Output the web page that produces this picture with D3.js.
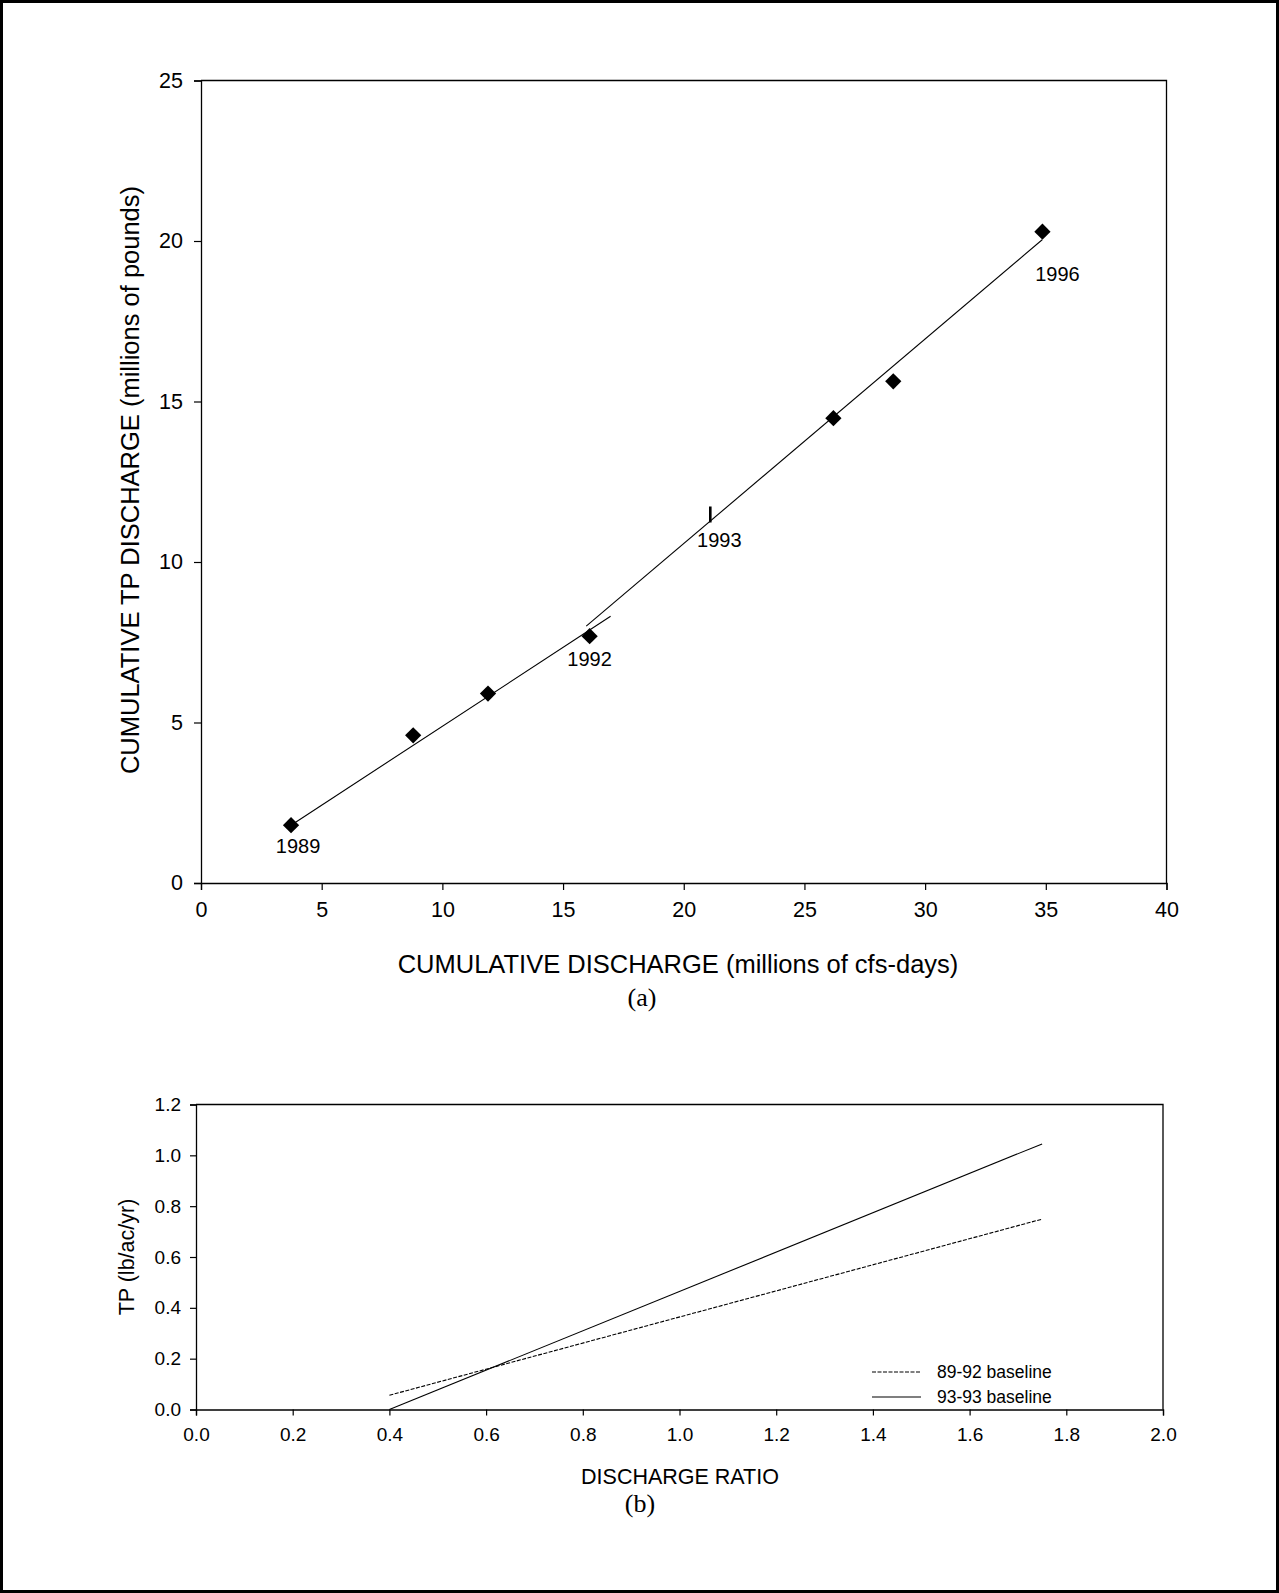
<!DOCTYPE html>
<html>
<head>
<meta charset="utf-8">
<script src="https://cdn.jsdelivr.net/npm/d3@7"></script>
<style>
  html, body { margin: 0; padding: 0; background: #fff; }
  svg { display: block; }
  text { fill: #000; }
</style>
</head>
<body>
<svg id="page" width="1279" height="1593"></svg>
<script>
// ---- Panel (a): cumulative TP load vs cumulative discharge ----
const years        = [1989, 1990, 1991, 1992, 1993, 1994, 1995, 1996];
const cumDischarge = [3.73, 8.79, 11.89, 16.1, 21.1, 26.2, 28.68, 34.86];
const cumTP        = [1.80, 4.60, 5.90, 7.69, 11.48, 14.48, 15.63, 20.29];
const labelledYears = [1989, 1992, 1993, 1996];
const diamondYears  = [1989, 1990, 1991, 1992, 1994, 1995, 1996];

// fitted lines (end points) for the two periods
const fit8992X = [3.73, 16.97];
const fit8992Y = [1.80, 8.31];
const fit9396X = [15.96, 34.85];
const fit9396Y = [8.00, 20.04];

const xTicksA = [0, 5, 10, 15, 20, 25, 30, 35, 40];
const yTicksA = [0, 5, 10, 15, 20, 25];

// ---- Panel (b): TP yield vs discharge ratio ----
const ratioX      = [0.4, 1.75];
const tp8992      = [0.056, 0.749];
const tp9393      = [0.0, 1.045];
const seriesNames = ["89-92 baseline", "93-93 baseline"];
const xTicksB = [0.0, 0.2, 0.4, 0.6, 0.8, 1.0, 1.2, 1.4, 1.6, 1.8, 2.0];
const yTicksB = [0.0, 0.2, 0.4, 0.6, 0.8, 1.0, 1.2];

const SANS = "'Liberation Sans', Arial, sans-serif";
const SERIF = "'Liberation Serif', 'Times New Roman', serif";

const svg = d3.select("#page");

// page frame
svg.append("rect")
  .attr("x", 1.5).attr("y", 1.5)
  .attr("width", 1276).attr("height", 1590)
  .attr("fill", "none").attr("stroke", "#000").attr("stroke-width", 3);

// ================= Panel (a) =================
const A = { left: 201, right: 1166.5, top: 80.5, bottom: 883 };
const xA = d3.scaleLinear().domain([0, 40]).range([A.left, A.right]);
const yA = d3.scaleLinear().domain([0, 25]).range([A.bottom, A.top]);

const gA = svg.append("g");

// frame: top and right edges
gA.append("path")
  .attr("d", `M${A.left},${A.top}H${A.right}V${A.bottom}`)
  .attr("fill", "none").attr("stroke", "#000").attr("stroke-width", 1.3);

const axXA = gA.append("g")
  .attr("transform", `translate(0,${A.bottom})`)
  .call(d3.axisBottom(xA).tickValues(xTicksA).tickSize(7).tickPadding(12).tickFormat(d3.format("d")));
const axYA = gA.append("g")
  .attr("transform", `translate(${A.left},0)`)
  .call(d3.axisLeft(yA).tickValues(yTicksA).tickSize(7).tickPadding(11).tickFormat(d3.format("d")));
[axXA, axYA].forEach(ax => {
  ax.select(".domain").attr("stroke-width", 1.3);
  ax.selectAll(".tick line").attr("stroke-width", 1.2);
  ax.selectAll("text").attr("font-family", SANS).attr("font-size", 21.5).attr("fill", "#000");
});

// fitted lines
const lineGen = d3.line().x(d => xA(d[0])).y(d => yA(d[1]));
gA.append("path").datum(d3.zip(fit8992X, fit8992Y))
  .attr("d", lineGen).attr("fill", "none").attr("stroke", "#000").attr("stroke-width", 1.1);
gA.append("path").datum(d3.zip(fit9396X, fit9396Y))
  .attr("d", lineGen).attr("fill", "none").attr("stroke", "#000").attr("stroke-width", 1.1);

const pts = years.map((y, i) => ({ year: y, x: cumDischarge[i], y: cumTP[i] }));

// diamond markers
const diamond = d3.symbol().type(d3.symbolSquare).size(132);
gA.selectAll("path.pt")
  .data(pts.filter(p => diamondYears.includes(p.year)))
  .join("path")
  .attr("class", "pt")
  .attr("d", diamond)
  .attr("transform", p => `translate(${xA(p.x)},${yA(p.y)}) rotate(45)`)
  .attr("fill", "#000");

// 1993 shown as a vertical bar
gA.selectAll("line.bar")
  .data(pts.filter(p => !diamondYears.includes(p.year)))
  .join("line")
  .attr("class", "bar")
  .attr("x1", p => xA(p.x)).attr("x2", p => xA(p.x))
  .attr("y1", p => yA(p.y) - 8).attr("y2", p => yA(p.y) + 8)
  .attr("stroke", "#000").attr("stroke-width", 2.6);

// year labels
const labelOffset = { 1989: [7, 28], 1992: [0, 30], 1993: [9, 33], 1996: [15, 49] };
gA.selectAll("text.yr")
  .data(pts.filter(p => labelledYears.includes(p.year)))
  .join("text")
  .attr("class", "yr")
  .attr("x", p => xA(p.x) + labelOffset[p.year][0])
  .attr("y", p => yA(p.y) + labelOffset[p.year][1])
  .attr("text-anchor", "middle")
  .attr("font-family", SANS).attr("font-size", 20)
  .text(p => p.year);

// axis titles
gA.append("text")
  .attr("transform", `translate(139,480) rotate(-90)`)
  .attr("text-anchor", "middle")
  .attr("font-family", SANS).attr("font-size", 25.5)
  .text("CUMULATIVE TP DISCHARGE (millions of pounds)");
gA.append("text")
  .attr("x", 678).attr("y", 973)
  .attr("text-anchor", "middle")
  .attr("font-family", SANS).attr("font-size", 25.5)
  .text("CUMULATIVE DISCHARGE (millions of cfs-days)");
gA.append("text")
  .attr("x", 642).attr("y", 1006)
  .attr("text-anchor", "middle")
  .attr("font-family", SERIF).attr("font-size", 26)
  .text("(a)");

// ================= Panel (b) =================
const B = { left: 196, right: 1163, top: 1104.5, bottom: 1409.5 };
const xB = d3.scaleLinear().domain([0, 2]).range([B.left, B.right]);
const yB = d3.scaleLinear().domain([0, 1.2]).range([B.bottom, B.top]);

const gB = svg.append("g");
gB.append("path")
  .attr("d", `M${B.left},${B.top}H${B.right}V${B.bottom}`)
  .attr("fill", "none").attr("stroke", "#000").attr("stroke-width", 1.3);

const axXB = gB.append("g")
  .attr("transform", `translate(0,${B.bottom})`)
  .call(d3.axisBottom(xB).tickValues(xTicksB).tickSize(6).tickPadding(12).tickFormat(d3.format(".1f")));
const axYB = gB.append("g")
  .attr("transform", `translate(${B.left},0)`)
  .call(d3.axisLeft(yB).tickValues(yTicksB).tickSize(6).tickPadding(9).tickFormat(d3.format(".1f")));
[axXB, axYB].forEach(ax => {
  ax.select(".domain").attr("stroke-width", 1.3);
  ax.selectAll(".tick line").attr("stroke-width", 1.2);
  ax.selectAll("text").attr("font-family", SANS).attr("font-size", 19).attr("fill", "#000");
});

const lineB = d3.line().x(d => xB(d[0])).y(d => yB(d[1]));
const seriesB = [
  { name: seriesNames[0], pts: d3.zip(ratioX, tp8992), dash: "4,1.5" },
  { name: seriesNames[1], pts: d3.zip(ratioX, tp9393), dash: null }
];
gB.selectAll("path.ser")
  .data(seriesB)
  .join("path")
  .attr("class", "ser")
  .attr("d", s => lineB(s.pts))
  .attr("fill", "none").attr("stroke", "#000").attr("stroke-width", 1.1)
  .attr("stroke-dasharray", s => s.dash);

// legend
const leg = gB.append("g").attr("transform", "translate(872,1372)");
seriesB.forEach((s, i) => {
  const row = leg.append("g").attr("transform", `translate(0,${i * 25})`);
  row.append("line")
    .attr("x1", 0).attr("x2", 49).attr("y1", 0).attr("y2", 0)
    .attr("stroke", "#000").attr("stroke-width", 1.1)
    .attr("stroke-dasharray", s.dash);
  row.append("text")
    .attr("x", 65).attr("y", 5.5)
    .attr("font-family", SANS).attr("font-size", 17.5)
    .text(s.name);
});

gB.append("text")
  .attr("transform", `translate(134,1257) rotate(-90)`)
  .attr("text-anchor", "middle")
  .attr("font-family", SANS).attr("font-size", 21.5)
  .text("TP (lb/ac/yr)");
gB.append("text")
  .attr("x", 680).attr("y", 1484)
  .attr("text-anchor", "middle")
  .attr("font-family", SANS).attr("font-size", 21.5)
  .text("DISCHARGE RATIO");
gB.append("text")
  .attr("x", 640).attr("y", 1512)
  .attr("text-anchor", "middle")
  .attr("font-family", SERIF).attr("font-size", 26)
  .text("(b)");
</script>
</body>
</html>
